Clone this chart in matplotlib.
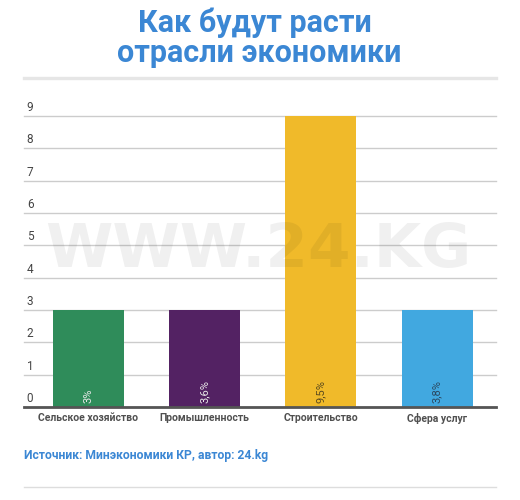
import matplotlib.pyplot as plt
from matplotlib.transforms import ScaledTranslation

plt.rcParams['font.family'] = ['Roboto', 'DejaVu Sans']

TITLE_1 = 'Как будут расти'
TITLE_2 = 'отрасли экономики'
SOURCE = 'Источник: Минэкономики КР, автор: 24.kg'

sectors = ['Сельское хозяйство', 'Промышленность', 'Строительство', 'Сфера услуг']
heights = [3, 3, 9, 3]
labels = ['3%', '3,6%', '9,5%', '3,8%']
colors = ['#2f8c5a', '#532263', '#f0ba2a', '#41a8e0']
label_colors = ['#e8e8e8', '#e8e8e8', '#5a4a1e', '#2b4a62']
yticks = list(range(0, 10))

BLUE = '#3b87d4'

fig = plt.figure(figsize=(5.2, 5.0), dpi=100)

# title
fig.text(0.491, 1 - 32 / 500, TITLE_1, ha='center', va='baseline',
         fontsize=22, fontweight='bold', color=BLUE)
fig.text(0.498, 1 - 62 / 500, TITLE_2, ha='center', va='baseline',
         fontsize=22, fontweight='bold', color=BLUE)
fig.add_artist(plt.Line2D([24 / 520, 496 / 520], [1 - 77.5 / 500] * 2,
                          color='#e6e6e6', lw=2.4, transform=fig.transFigure))

ax = fig.add_axes([24 / 520, 93 / 500, 472 / 520, 291 / 500])
x = range(len(sectors))
ax.bar(x, heights, width=0.61, color=colors, zorder=2)

for i, (lab, c) in enumerate(zip(labels, label_colors)):
    ax.annotate(lab, (i, 0), xytext=(0, 3), textcoords='offset points',
                rotation=90, ha='center', va='bottom', fontsize=8,
                color=c, zorder=4)

ax.set_xlim(-0.555, 3.507)
ax.set_ylim(0, 9)
ax.set_yticks(yticks)
ax.set_yticklabels([str(t) for t in yticks])
ax.grid(axis='y', color='#cccccc', lw=1, zorder=0)
for line in ax.get_ygridlines():
    line.set_clip_on(False)
ax.set_axisbelow(True)

ax.set_xticks(list(x))
ax.set_xticklabels(sectors, fontsize=7.5, fontweight='bold', color='#505050')
ax.tick_params(axis='x', length=0, pad=4)
ax.tick_params(axis='y', length=0, pad=-2, labelsize=8.5, labelcolor='#444444')
shift = ScaledTranslation(0, 2 / 100, fig.dpi_scale_trans)
for t in ax.get_yticklabels():
    t.set_horizontalalignment('left')
    t.set_verticalalignment('bottom')
    t.set_transform(t.get_transform() + shift)

for s in ['top', 'right', 'left']:
    ax.spines[s].set_visible(False)
ax.spines['bottom'].set_color('#555555')
ax.spines['bottom'].set_linewidth(2)

# watermark
fig.text(0.496, 1 - 251 / 500, 'WWW.24.KG', ha='center', va='center',
         fontsize=44, fontweight='bold', family='DejaVu Sans',
         color='black', alpha=0.06, zorder=10)

fig.text(24 / 520, 1 - 456 / 500, SOURCE, ha='left', va='center',
         fontsize=8.7, fontweight='bold', color=BLUE)
fig.add_artist(plt.Line2D([24 / 520, 496 / 520], [1 - 487 / 500] * 2,
                          color='#dddddd', lw=1, transform=fig.transFigure))

fig.savefig('out.png', dpi=100, facecolor='white')
